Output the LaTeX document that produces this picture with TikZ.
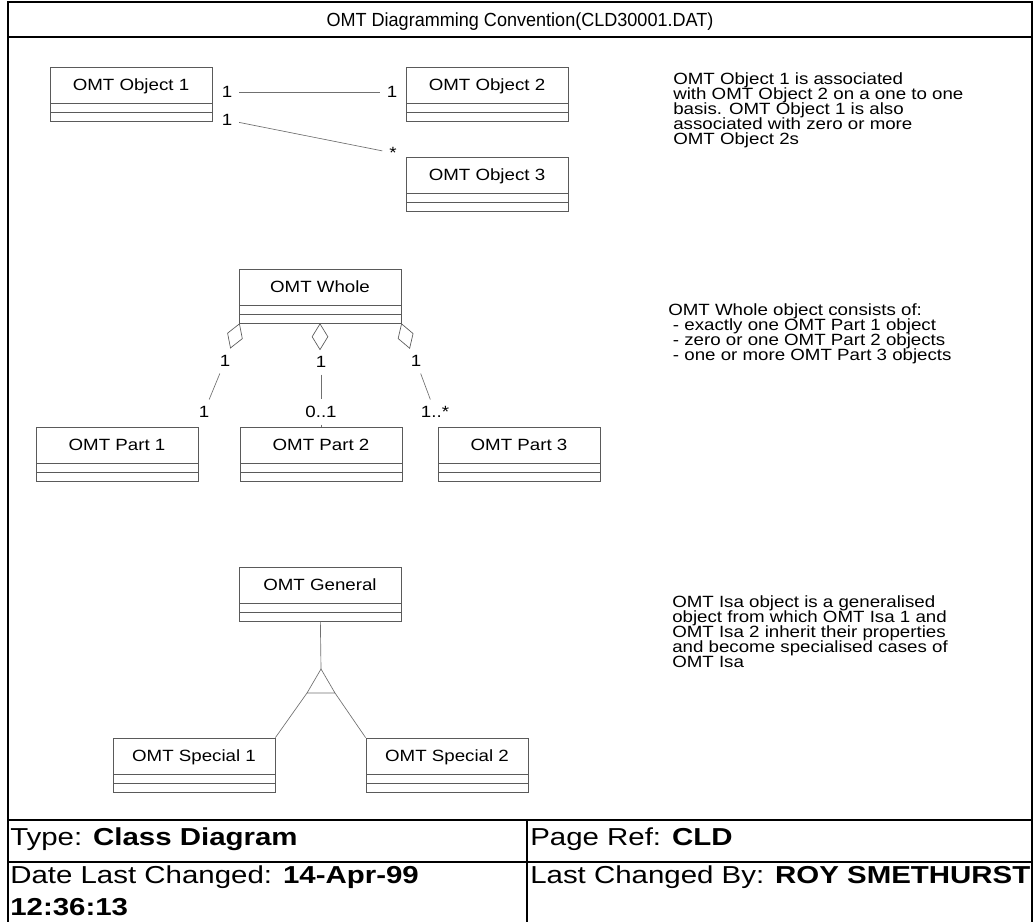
\documentclass[tikz,border=0pt]{standalone}
\usepackage{fontspec}
\setmainfont{Liberation Sans}
\newfontfamily\omtfont[FakeStretch=1.15]{Liberation Sans}
\newfontfamily\footfont[FakeStretch=1.2]{Liberation Sans}
\newfontfamily\titlefont[FakeStretch=0.95]{Liberation Sans}
\usetikzlibrary{shapes.geometric}
\definecolor{boxgrey}{HTML}{5A5A5A}
\definecolor{linegrey}{HTML}{707070}

\begin{document}
\begin{tikzpicture}[x=0.75pt,y=-0.75pt,
  frame/.style={draw=black,line width=1.6pt},
  cls/.style={draw=boxgrey,line width=0.6pt,fill=white,minimum width=121.5pt,
    inner xsep=0pt,inner ysep=0pt,text height=17.25pt,text depth=23.25pt,
    font=\omtfont\fontsize{12.2}{14}\selectfont,
    path picture={\draw[boxgrey,line width=0.6pt]
      ([yshift=13.5pt]path picture bounding box.south west) -- ([yshift=13.5pt]path picture bounding box.south east)
      ([yshift=6.75pt]path picture bounding box.south west) -- ([yshift=6.75pt]path picture bounding box.south east);}},
  mult/.style={inner sep=5pt,font=\omtfont\fontsize{12.2}{14}\selectfont},
  link/.style={draw=linegrey,line width=0.5pt},
  aggdiam/.style={diamond,draw=boxgrey,fill=white,line width=0.5pt,
    minimum width=19.5pt,minimum height=12pt,inner sep=0pt},
  note/.style={align=left,anchor=north west,inner sep=0pt,
    font={\omtfont\fontsize{12.2}{11.3}\selectfont\lineskiplimit=-20pt\relax}},
  foot/.style={anchor=base west,inner sep=0pt,
    font={\footfont\fontsize{18.4}{24}\selectfont\lineskiplimit=-20pt\relax}}]
\useasboundingbox (0,0) rectangle (1034,921);

% ---- sheet frame
\draw[frame] (8,2) rectangle (1032,925);
\draw[frame] (8,37) -- (1032,37);
\draw[frame] (8,820) -- (1032,820);
\draw[frame] (8,862) -- (1032,862);
\draw[frame] (527,820) -- (527,925);
\node[font=\titlefont\fontsize{14.25}{17}\selectfont] (title) at (520,22) {OMT Diagramming Convention(CLD30001.DAT)};

% ---- association
\node[cls] (obj1) at (131,94) {OMT Object 1};
\node[cls] (obj2) at (487,94) {OMT Object 2};
\node[cls] (obj3) at (487,184) {OMT Object 3};
\node[mult] (oa1) at (227,92) {1};
\node[mult] (ob1) at (392,92) {1};
\node[mult] (oa2) at (227,120) {1};
\node[mult] (ob3) at (393,153) {*};
\draw[link] (oa1) -- (ob1);
\draw[link] (oa2) -- (ob3);
\node[note] (txt1) at (673,72.5) {OMT Object 1 is associated\\with OMT Object 2 on a one to one\\basis. OMT Object 1 is also\\associated with zero or more\\OMT Object 2s};

% ---- aggregation
\node[cls] (whole) at (320,296) {OMT Whole};
\node[cls] (part1) at (117,454) {OMT Part 1};
\node[cls] (part2) at (321,454) {OMT Part 2};
\node[cls] (part3) at (519,454) {OMT Part 3};
\node[aggdiam,rotate=69.6,anchor=east] (dg1) at ([xshift=0.75pt]whole.south west) {};
\node[aggdiam,rotate=90,anchor=east] (dg2) at (whole.south) {};
\node[aggdiam,rotate=108.4,anchor=east] (dg3) at (whole.south east) {};
\node[mult] (wl1) at (225,361) {1};
\node[mult] (wl2) at (321,362) {1};
\node[mult] (wl3) at (416,361) {1};
\node[mult] (pl1) at (204,412) {1};
\node[mult] (pl2) at (321,412) {0..1};
\node[mult] (pl3) at (435,412) {1..*};
\draw[link] (wl1) -- (pl1);
\draw[link] (wl2) -- (pl2);
\draw[link] (wl3) -- (pl3);
\draw[link] (pl2) -- (part2);
\node[note] (txt2) at (668,303.5) {OMT Whole object consists of:\\\hspace*{3.5pt}- exactly one OMT Part 1 object\\\hspace*{3.5pt}- zero or one OMT Part 2 objects\\\hspace*{3.5pt}- one or more OMT Part 3 objects};

% ---- generalisation
\node[cls] (gen) at (320,594) {OMT General};
\node[cls] (sp1) at (194,765) {OMT Special 1};
\node[cls] (sp2) at (447,765) {OMT Special 2};
\coordinate (apex) at (321,669);
\draw[link] (gen) -- (apex);
\draw[link] (apex) -- ++(-14,24) coordinate (tbl) -- ++(28,0) coordinate (tbr) -- cycle;
\draw[link] (tbl) -- (sp1.north east);
\draw[link] (tbr) -- (sp2.north west);
\node[note] (txt3) at (672,595.5) {OMT Isa object is a generalised\\object from which OMT Isa 1 and\\OMT Isa 2 inherit their properties\\and become specialised cases of\\OMT Isa};

% ---- footer
\node[foot] (ftype) at (10,845) {Type: \textbf{Class Diagram}};
\node[foot] (fref) at (530,845) {Page Ref: \textbf{CLD}};
\node[foot,align=left] (fdate) at (10,915) {Date Last Changed: \textbf{14-Apr-99}\\\textbf{12:36:13}};
\node[foot] (fby) at (530,883) {Last Changed By: \textbf{ROY SMETHURST}};
\end{tikzpicture}
\end{document}
